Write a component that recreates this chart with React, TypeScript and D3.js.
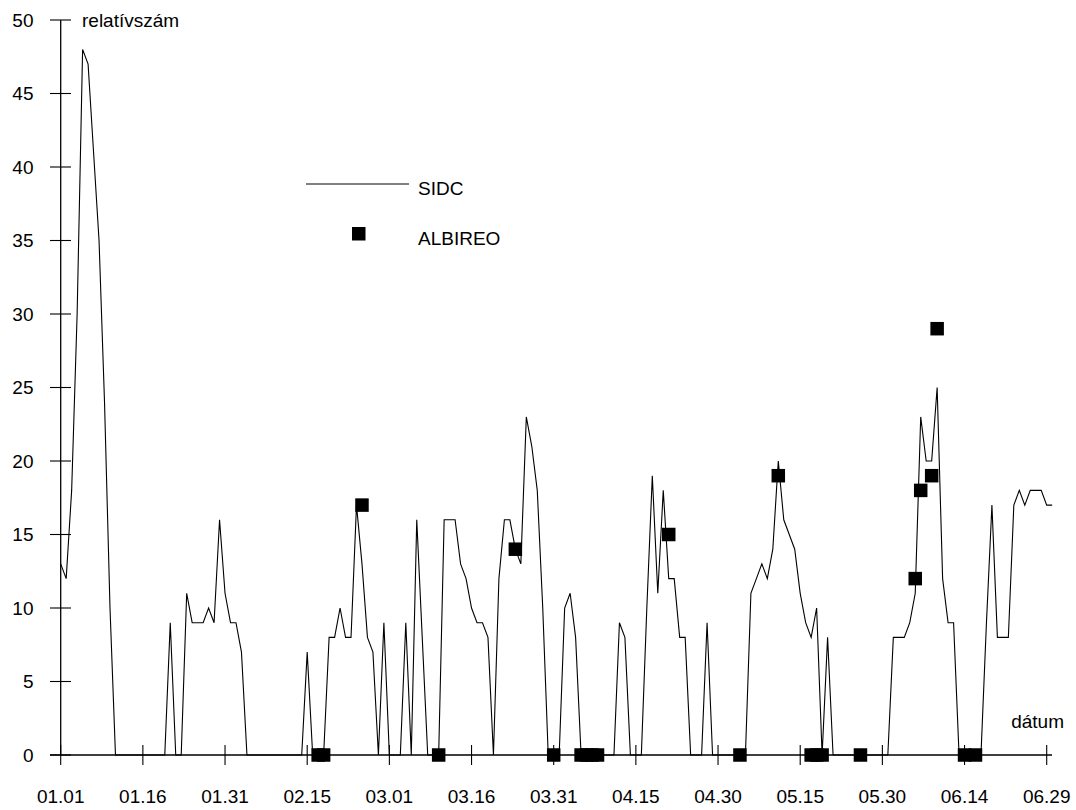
import React from "react";
import * as d3 from "d3";

// Daily SIDC relative numbers, day 0 = 01.01
const sidcValues: number[] = [
  13, 12, 18, 30, 48, 47, 41, 35, 24, 10,
  0, 0, 0, 0, 0, 0, 0, 0, 0, 0,
  9, 0, 0, 11, 9, 9, 9, 10, 9, 16,
  11, 9, 9, 7, 0, 0, 0, 0, 0, 0,
  0, 0, 0, 0, 0, 7, 0, 0, 0, 8,
  8, 10, 8, 8, 17, 13, 8, 7, 0, 9,
  0, 0, 0, 9, 0, 16, 8, 0, 0, 0,
  16, 16, 16, 13, 12, 10, 9, 9, 8, 0,
  12, 16, 16, 14, 13, 23, 21, 18, 10, 0,
  0, 0, 10, 11, 8, 0, 0, 0, 0, 0,
  0, 0, 9, 8, 0, 0, 0, 10, 19, 11,
  18, 12, 12, 8, 8, 0, 0, 0, 9, 0,
  0, 0, 0, 0, 0, 0, 11, 12, 13, 12,
  14, 20, 16, 15, 14, 11, 9, 8, 10, 0,
  8, 0, 0, 0, 0, 0, 0, 0, 0, 0,
  0, 0, 8, 8, 8, 9, 11, 23, 20, 20,
  25, 12, 9, 9, 0, 0, 0, 0, 0, 9,
  17, 8, 8, 8, 17, 18, 17, 18, 18, 18,
  17, 17,
];

// ALBIREO observations: day index and relative number
const albireoDays: number[] = [47, 48, 55, 69, 83, 90, 95, 96, 97, 98, 111, 124, 131, 137, 138, 139, 146, 156, 157, 159, 160, 165, 167];
const albireoValues: number[] = [0, 0, 17, 0, 14, 0, 0, 0, 0, 0, 15, 0, 19, 0, 0, 0, 0, 12, 18, 19, 29, 0, 0];

const xTickDays: number[] = [0, 15, 30, 45, 60, 75, 90, 105, 120, 135, 150, 165, 180];
const xTickLabels: string[] = ["01.01", "01.16", "01.31", "02.15", "03.01", "03.16", "03.31", "04.15", "04.30", "05.15", "05.30", "06.14", "06.29"];
const yTicks: number[] = [0, 5, 10, 15, 20, 25, 30, 35, 40, 45, 50];

const W = 1076;
const H = 810;
const FONT = "'Liberation Sans', Arial, sans-serif";

export default function App() {
  const x = d3.scaleLinear().domain([0, 180]).range([60.7, 1046.7]);
  const y = d3.scaleLinear().domain([0, 50]).range([755, 20]);

  const line = d3
    .line<number>()
    .x((_, i) => x(i))
    .y((d) => y(d));

  const sq = 13.5;

  return (
    <svg
      width={W}
      height={H}
      style={{ position: "absolute", left: 0, top: 0, background: "#fff" }}
      fontFamily={FONT}
    >
      <rect x={0} y={0} width={W} height={H} fill="#fff" />
      {/* y axis */}
      <line x1={x(0)} x2={x(0)} y1={y(50)} y2={y(0)} stroke="#000" strokeWidth={1.3} />
      {yTicks.map((t) => (
        <g key={"y" + t}>
          <line x1={50} x2={71} y1={y(t)} y2={y(t)} stroke="#000" strokeWidth={1.1} />
          <text x={33.5} y={y(t)} dy="0.36em" textAnchor="end" fontSize={19}>
            {t}
          </text>
        </g>
      ))}
      {/* x axis */}
      <line x1={50} x2={1052} y1={y(0)} y2={y(0)} stroke="#000" strokeWidth={1.3} />
      {xTickDays.map((d, i) => (
        <g key={"x" + d}>
          <line x1={x(d)} x2={x(d)} y1={745} y2={765} stroke="#000" strokeWidth={1.1} />
          <text x={x(d)} y={803} textAnchor="middle" fontSize={19}>
            {xTickLabels[i]}
          </text>
        </g>
      ))}
      <text x={82} y={27} fontSize={19}>relatívszám</text>
      <text x={1064} y={728} textAnchor="end" fontSize={19}>dátum</text>

      {/* SIDC line */}
      <path d={line(sidcValues) ?? ""} fill="none" stroke="#000" strokeWidth={1.1} strokeLinejoin="miter" />

      {/* ALBIREO squares */}
      {albireoDays.map((d, i) => (
        <rect
          key={"a" + i}
          x={x(d) - sq / 2}
          y={y(albireoValues[i]) - sq / 2}
          width={sq}
          height={sq}
          fill="#000"
        />
      ))}

      {/* legend */}
      <line x1={306} x2={409} y1={184} y2={184} stroke="#000" strokeWidth={1} />
      <text x={418} y={195} fontSize={19}>SIDC</text>
      <rect x={352} y={227} width={13.5} height={13.5} fill="#000" />
      <text x={418} y={245} fontSize={19}>ALBIREO</text>
    </svg>
  );
}
